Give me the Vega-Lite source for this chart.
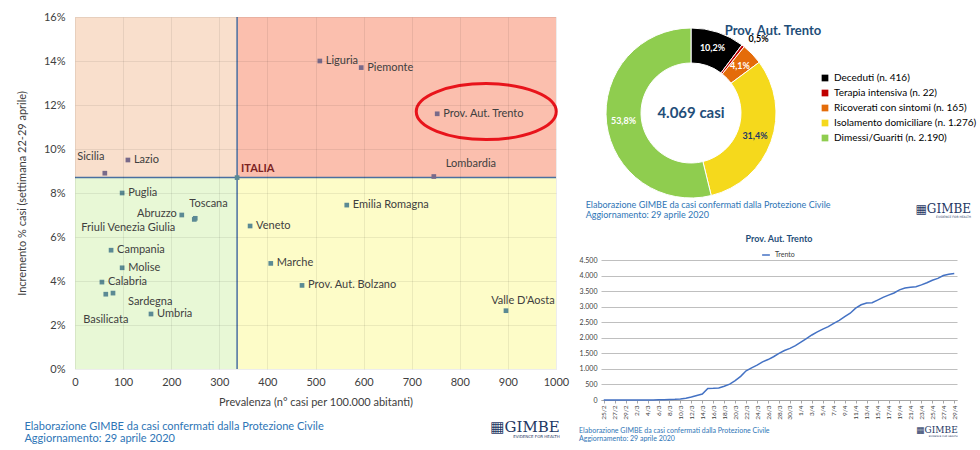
{
  "$schema": "https://vega.github.io/schema/vega-lite/v6.json",
  "padding": {"left": 16, "top": 11, "right": 5, "bottom": 0},
  "background": "white",
  "columns": 2,
  "align": "none",
  "spacing": 10,
  "resolve": {"scale": {"color": "independent", "stroke": "independent", "fill": "independent", "x": "independent", "y": "independent"}, "legend": {"color": "independent", "stroke": "independent", "fill": "independent"}},
  "config": {
    "font": "Lato",
    "view": {"stroke": null},
    "title": {"font": "Lato"},
    "legend": {"labelFont": "Lato"},
    "axis": {"labelFont": "Lato", "titleFont": "Lato"}
  },
  "datasets": {
    "regioni": [
      {"regione": "Liguria", "prevalenza": 509, "incremento": 0.140},
      {"regione": "Piemonte", "prevalenza": 595, "incremento": 0.137},
      {"regione": "Prov. Aut. Trento", "prevalenza": 753, "incremento": 0.116},
      {"regione": "Lombardia", "prevalenza": 746, "incremento": 0.0875},
      {"regione": "Sicilia", "prevalenza": 62, "incremento": 0.089},
      {"regione": "Lazio", "prevalenza": 110, "incremento": 0.095},
      {"regione": "Puglia", "prevalenza": 98, "incremento": 0.080},
      {"regione": "Abruzzo", "prevalenza": 222, "incremento": 0.070},
      {"regione": "Toscana", "prevalenza": 250, "incremento": 0.0685},
      {"regione": "Friuli Venezia Giulia", "prevalenza": 248, "incremento": 0.068},
      {"regione": "Veneto", "prevalenza": 364, "incremento": 0.065},
      {"regione": "Emilia Romagna", "prevalenza": 565, "incremento": 0.0745},
      {"regione": "Campania", "prevalenza": 75, "incremento": 0.054},
      {"regione": "Molise", "prevalenza": 98, "incremento": 0.046},
      {"regione": "Marche", "prevalenza": 407, "incremento": 0.048},
      {"regione": "Calabria", "prevalenza": 56, "incremento": 0.0395},
      {"regione": "Basilicata", "prevalenza": 64, "incremento": 0.034},
      {"regione": "Sardegna", "prevalenza": 79, "incremento": 0.0345},
      {"regione": "Umbria", "prevalenza": 158, "incremento": 0.025},
      {"regione": "Prov. Aut. Bolzano", "prevalenza": 472, "incremento": 0.038},
      {"regione": "Valle D'Aosta", "prevalenza": 896, "incremento": 0.0265},
      {"regione": "ITALIA", "prevalenza": 337, "incremento": 0.087}
    ],
    "quadranti": [
      {"quadrante": "bassa prevalenza, alto incremento", "x1": 0, "x2": 337, "y1": 0.087, "y2": 0.16},
      {"quadrante": "alta prevalenza, alto incremento", "x1": 337, "x2": 1000, "y1": 0.087, "y2": 0.16},
      {"quadrante": "bassa prevalenza, basso incremento", "x1": 0, "x2": 337, "y1": 0, "y2": 0.087},
      {"quadrante": "alta prevalenza, basso incremento", "x1": 337, "x2": 1000, "y1": 0, "y2": 0.087}
    ],
    "esiti": [
      {"stato": "Deceduti (n. 416)", "casi": 416, "ordine": 1},
      {"stato": "Terapia intensiva (n. 22)", "casi": 22, "ordine": 2},
      {"stato": "Ricoverati con sintomi (n. 165)", "casi": 165, "ordine": 3},
      {"stato": "Isolamento domiciliare (n. 1.276)", "casi": 1276, "ordine": 4},
      {"stato": "Dimessi/Guariti (n. 2.190)", "casi": 2190, "ordine": 5}
    ],
    "trento": [
      {"giorno": "25/2", "casi": 0}, {"giorno": "26/2", "casi": 0}, {"giorno": "27/2", "casi": 0},
      {"giorno": "28/2", "casi": 0}, {"giorno": "29/2", "casi": 0}, {"giorno": "1/3", "casi": 0},
      {"giorno": "2/3", "casi": 0}, {"giorno": "3/3", "casi": 1}, {"giorno": "4/3", "casi": 3},
      {"giorno": "5/3", "casi": 4}, {"giorno": "6/3", "casi": 7}, {"giorno": "7/3", "casi": 10},
      {"giorno": "8/3", "casi": 15}, {"giorno": "9/3", "casi": 22}, {"giorno": "10/3", "casi": 36},
      {"giorno": "11/3", "casi": 59}, {"giorno": "12/3", "casi": 95}, {"giorno": "13/3", "casi": 145},
      {"giorno": "14/3", "casi": 190}, {"giorno": "15/3", "casi": 372}, {"giorno": "16/3", "casi": 376},
      {"giorno": "17/3", "casi": 385}, {"giorno": "18/3", "casi": 440}, {"giorno": "19/3", "casi": 510},
      {"giorno": "20/3", "casi": 620}, {"giorno": "21/3", "casi": 760}, {"giorno": "22/3", "casi": 940},
      {"giorno": "23/3", "casi": 1030}, {"giorno": "24/3", "casi": 1120}, {"giorno": "25/3", "casi": 1225},
      {"giorno": "26/3", "casi": 1300}, {"giorno": "27/3", "casi": 1390}, {"giorno": "28/3", "casi": 1500},
      {"giorno": "29/3", "casi": 1590}, {"giorno": "30/3", "casi": 1660}, {"giorno": "31/3", "casi": 1750},
      {"giorno": "1/4", "casi": 1860}, {"giorno": "2/4", "casi": 1970}, {"giorno": "3/4", "casi": 2090},
      {"giorno": "4/4", "casi": 2190}, {"giorno": "5/4", "casi": 2280}, {"giorno": "6/4", "casi": 2356},
      {"giorno": "7/4", "casi": 2460}, {"giorno": "8/4", "casi": 2560}, {"giorno": "9/4", "casi": 2680},
      {"giorno": "10/4", "casi": 2790}, {"giorno": "11/4", "casi": 2950}, {"giorno": "12/4", "casi": 3060},
      {"giorno": "13/4", "casi": 3116}, {"giorno": "14/4", "casi": 3125}, {"giorno": "15/4", "casi": 3210},
      {"giorno": "16/4", "casi": 3299}, {"giorno": "17/4", "casi": 3370}, {"giorno": "18/4", "casi": 3440},
      {"giorno": "19/4", "casi": 3540}, {"giorno": "20/4", "casi": 3600}, {"giorno": "21/4", "casi": 3625},
      {"giorno": "22/4", "casi": 3641}, {"giorno": "23/4", "casi": 3700}, {"giorno": "24/4", "casi": 3770},
      {"giorno": "25/4", "casi": 3850}, {"giorno": "26/4", "casi": 3910}, {"giorno": "27/4", "casi": 4000},
      {"giorno": "28/4", "casi": 4040}, {"giorno": "29/4", "casi": 4069}
    ]
  },
  "concat": [
    {
      "title": {"text": "▦GIMBE", "subtitle": "EVIDENCE FOR HEALTH", "orient": "bottom", "anchor": "end", "font": "DejaVu Serif", "fontSize": 15, "fontWeight": "normal", "color": "#1f3864", "subtitleFont": "DejaVu Sans", "subtitleFontSize": 4, "subtitleColor": "#1f3864", "subtitlePadding": 0, "offset": -24, "dx": -9},
      "vconcat": [
        {
          "width": 481,
          "height": 352,
          "data": {"name": "regioni"},
          "title": {"text": "Elaborazione GIMBE da casi confermati dalla Protezione Civile", "subtitle": "Aggiornamento: 29 aprile 2020", "orient": "bottom", "anchor": "start", "fontSize": 11, "fontWeight": "normal", "color": "#2e75b6", "subtitleFont": "Lato", "subtitleFontSize": 11, "subtitleColor": "#2e75b6", "subtitlePadding": 1, "offset": 14, "dx": 8},
          "layer": [
            {
              "data": {"name": "quadranti"},
              "mark": {"type": "rect"},
              "encoding": {
                "x": {"field": "x1", "type": "quantitative", "scale": {"domain": [0, 1000]},
                  "axis": {"title": "Prevalenza  (n° casi per 100.000 abitanti)", "values": [0, 100, 200, 300, 400, 500, 600, 700, 800, 900, 1000], "format": "d", "labelFlush": false, "labelFontSize": 11, "titleFontSize": 11, "titleFontWeight": "normal", "labelColor": "#404040", "titleColor": "#404040", "ticks": false, "domain": false, "labelPadding": 7, "titlePadding": 9, "gridColor": "#000000", "gridOpacity": 0.07, "zindex": 1}},
                "x2": {"field": "x2"},
                "y": {"field": "y1", "type": "quantitative", "scale": {"domain": [0, 0.16]},
                  "axis": {"title": "Incremento %  casi (settimana 22-29 aprile)", "format": ".0%", "values": [0, 0.02, 0.04, 0.06, 0.08, 0.1, 0.12, 0.14, 0.16], "labelFlush": false, "labelFontSize": 11, "titleFontSize": 11, "titleFontWeight": "normal", "labelColor": "#404040", "titleColor": "#404040", "ticks": false, "domain": false, "labelPadding": 10, "titlePadding": 16, "gridColor": "#000000", "gridOpacity": 0.07, "zindex": 1}},
                "y2": {"field": "y2"},
                "fill": {"field": "quadrante", "type": "nominal", "legend": null,
                  "scale": {"domain": ["bassa prevalenza, alto incremento", "alta prevalenza, alto incremento", "bassa prevalenza, basso incremento", "alta prevalenza, basso incremento"], "range": ["#f9dfcc", "#fbbfae", "#e8f8d6", "#fdfcc8"]}}
              }
            },
            {
              "transform": [{"filter": "datum.regione == 'ITALIA'"}],
              "mark": {"type": "rule", "color": "#4a6fa0", "strokeWidth": 1.5},
              "encoding": {"x": {"field": "prevalenza", "type": "quantitative"}, "y": {"datum": 0}, "y2": {"datum": 0.16}}
            },
            {
              "transform": [{"filter": "datum.regione == 'ITALIA'"}],
              "mark": {"type": "rule", "color": "#4a6fa0", "strokeWidth": 1.5},
              "encoding": {"y": {"field": "incremento", "type": "quantitative"}, "x": {"datum": 0}, "x2": {"datum": 1000}}
            },
            {
              "mark": {"type": "square", "size": 22, "opacity": 1},
              "encoding": {
                "x": {"field": "prevalenza", "type": "quantitative"},
                "y": {"field": "incremento", "type": "quantitative"},
                "color": {"condition": {"test": "datum.incremento > 0.087", "value": "#786a8a"}, "value": "#5b8a94"}
              }
            },
            {
              "transform": [{"filter": "indexof(['Liguria','Piemonte','Prov. Aut. Trento','Lazio','Puglia','Veneto','Emilia Romagna','Campania','Molise','Marche','Calabria','Umbria','Prov. Aut. Bolzano'], datum.regione) >= 0"}],
              "mark": {"type": "text", "align": "left", "baseline": "middle", "dx": 6, "fontSize": 11, "color": "#404040"},
              "encoding": {"x": {"field": "prevalenza", "type": "quantitative"}, "y": {"field": "incremento", "type": "quantitative"}, "text": {"field": "regione"}}
            },
            {
              "transform": [{"filter": "datum.regione == 'Lombardia'"}],
              "mark": {"type": "text", "align": "left", "baseline": "middle", "dx": 12, "dy": -13, "fontSize": 11, "color": "#404040"},
              "encoding": {"x": {"field": "prevalenza", "type": "quantitative"}, "y": {"field": "incremento", "type": "quantitative"}, "text": {"field": "regione"}}
            },
            {
              "transform": [{"filter": "datum.regione == 'Toscana'"}],
              "mark": {"type": "text", "align": "left", "baseline": "middle", "dx": -6, "dy": -14, "fontSize": 11, "color": "#404040"},
              "encoding": {"x": {"field": "prevalenza", "type": "quantitative"}, "y": {"field": "incremento", "type": "quantitative"}, "text": {"field": "regione"}}
            },
            {
              "transform": [{"filter": "datum.regione == 'Sicilia'"}],
              "mark": {"type": "text", "align": "center", "baseline": "middle", "dx": -14, "dy": -16, "fontSize": 11, "color": "#404040"},
              "encoding": {"x": {"field": "prevalenza", "type": "quantitative"}, "y": {"field": "incremento", "type": "quantitative"}, "text": {"field": "regione"}}
            },
            {
              "transform": [{"filter": "datum.regione == \"Valle D'Aosta\""}],
              "mark": {"type": "text", "align": "center", "baseline": "middle", "dx": 17, "dy": -10, "fontSize": 11, "color": "#404040"},
              "encoding": {"x": {"field": "prevalenza", "type": "quantitative"}, "y": {"field": "incremento", "type": "quantitative"}, "text": {"field": "regione"}}
            },
            {
              "transform": [{"filter": "datum.regione == 'Abruzzo'"}],
              "mark": {"type": "text", "align": "right", "baseline": "middle", "dx": -5, "dy": -1, "fontSize": 11, "color": "#404040"},
              "encoding": {"x": {"field": "prevalenza", "type": "quantitative"}, "y": {"field": "incremento", "type": "quantitative"}, "text": {"field": "regione"}}
            },
            {
              "transform": [{"filter": "datum.regione == 'Friuli Venezia Giulia'"}],
              "mark": {"type": "text", "align": "right", "baseline": "middle", "dx": -19, "dy": 9, "fontSize": 11, "color": "#404040"},
              "encoding": {"x": {"field": "prevalenza", "type": "quantitative"}, "y": {"field": "incremento", "type": "quantitative"}, "text": {"field": "regione"}}
            },
            {
              "transform": [{"filter": "datum.regione == 'Sardegna'"}],
              "mark": {"type": "text", "align": "left", "baseline": "middle", "dx": 15, "dy": 9, "fontSize": 11, "color": "#404040"},
              "encoding": {"x": {"field": "prevalenza", "type": "quantitative"}, "y": {"field": "incremento", "type": "quantitative"}, "text": {"field": "regione"}}
            },
            {
              "transform": [{"filter": "datum.regione == 'Basilicata'"}],
              "mark": {"type": "text", "align": "center", "baseline": "middle", "dx": 0, "dy": 26, "fontSize": 11, "color": "#404040"},
              "encoding": {"x": {"field": "prevalenza", "type": "quantitative"}, "y": {"field": "incremento", "type": "quantitative"}, "text": {"field": "regione"}}
            },
            {
              "transform": [{"filter": "datum.regione == 'ITALIA'"}],
              "mark": {"type": "text", "align": "left", "baseline": "middle", "dx": 4, "dy": -9, "fontSize": 11, "fontWeight": "bold", "color": "#7b2323"},
              "encoding": {"x": {"field": "prevalenza", "type": "quantitative"}, "y": {"field": "incremento", "type": "quantitative"}, "text": {"field": "regione"}}
            },
            {
              "transform": [{"filter": "datum.regione == 'Prov. Aut. Trento'"}],
              "mark": {"type": "point", "shape": "M-1,0C-1,-0.2209,-0.5523,-0.4,0,-0.4C0.5523,-0.4,1,-0.2209,1,0C1,0.2209,0.5523,0.4,0,0.4C-0.5523,0.4,-1,0.2209,-1,0Z", "size": 19600, "filled": false, "stroke": "#e8141b", "strokeWidth": 3, "opacity": 1},
              "encoding": {"x": {"datum": 855}, "y": {"datum": 0.117}}
            }
          ]
        }
      ]
    },
    {
      "spacing": 15,
      "resolve": {"scale": {"color": "independent", "stroke": "independent"}, "legend": {"color": "independent", "stroke": "independent"}},
      "vconcat": [
        {
          "title": {"text": "▦GIMBE", "subtitle": "EVIDENCE FOR HEALTH", "orient": "bottom", "anchor": "end", "font": "DejaVu Serif", "fontSize": 12, "fontWeight": "normal", "color": "#1f3864", "subtitleFont": "DejaVu Sans", "subtitleFontSize": 3, "subtitleColor": "#1f3864", "subtitlePadding": 0, "offset": -16, "dx": -6},
          "vconcat": [
            {
              "title": {"text": "Elaborazione GIMBE da casi confermati dalla Protezione Civile", "subtitle": "Aggiornamento: 29 aprile 2020", "orient": "bottom", "anchor": "start", "fontSize": 9, "fontWeight": "normal", "color": "#2e75b6", "subtitleFont": "Lato", "subtitleFontSize": 9, "subtitleColor": "#2e75b6", "subtitlePadding": 1, "offset": -8, "dx": -12},
              "vconcat": [
                {
                  "width": 180,
                  "height": 192,
                  "data": {"name": "esiti"},
                  "title": {"text": "Prov. Aut. Trento", "fontSize": 13, "fontWeight": "bold", "color": "#1f4e79", "anchor": "middle", "offset": -21, "dx": 82},
                  "transform": [
                    {"joinaggregate": [{"op": "sum", "field": "casi", "as": "totale"}]},
                    {"calculate": "replace(format(datum.casi / datum.totale, '.1%'), '.', ',')", "as": "quota"}
                  ],
                  "layer": [
                    {
                      "mark": {"type": "arc", "innerRadius": 50, "outerRadius": 85, "stroke": "white", "strokeWidth": 1},
                      "encoding": {
                        "theta": {"field": "casi", "type": "quantitative", "stack": true},
                        "order": {"field": "ordine", "type": "quantitative"},
                        "color": {"field": "stato", "type": "nominal",
                          "scale": {"domain": ["Deceduti (n. 416)", "Terapia intensiva (n. 22)", "Ricoverati con sintomi (n. 165)", "Isolamento domiciliare (n. 1.276)", "Dimessi/Guariti (n. 2.190)"], "range": ["#000000", "#c00000", "#e46c0a", "#f5d91c", "#8fcd4f"]},
                          "legend": {"title": null, "orient": "none", "legendX": 219, "legendY": 56, "symbolType": "square", "symbolSize": 45, "symbolStrokeWidth": 0, "labelFontSize": 10, "labelColor": "#000000", "rowPadding": 5, "padding": 0}}
                      }
                    },
                    {
                      "mark": {"type": "text", "radius": 68, "fontSize": 9, "fontWeight": "bold"},
                      "encoding": {
                        "theta": {"field": "casi", "type": "quantitative", "stack": true},
                        "order": {"field": "ordine", "type": "quantitative"},
                        "text": {"condition": {"test": "datum.casi == 22", "value": ""}, "field": "quota"},
                        "color": {"condition": {"test": "datum.casi == 1276", "value": "#1f3864"}, "value": "#ffffff"}
                      }
                    },
                    {
                      "mark": {"type": "text", "radius": 94, "fontSize": 9, "fontWeight": "bold", "color": "#000000", "align": "left"},
                      "encoding": {
                        "theta": {"field": "casi", "type": "quantitative", "stack": true},
                        "order": {"field": "ordine", "type": "quantitative"},
                        "text": {"condition": {"test": "datum.casi != 22", "value": ""}, "field": "quota"}
                      }
                    },
                    {
                      "transform": [
                        {"aggregate": [{"op": "sum", "field": "casi", "as": "somma"}]},
                        {"calculate": "replace(format(datum.somma, ','), ',', '.') + ' casi'", "as": "etichetta"}
                      ],
                      "mark": {"type": "text", "fontSize": 15, "fontWeight": "bold", "color": "#1f4e79"},
                      "encoding": {"text": {"field": "etichetta"}}
                    }
                  ]
                }
              ]
            }
          ]
        },
        {
          "title": {"text": "▦GIMBE", "subtitle": "EVIDENCE FOR HEALTH", "orient": "bottom", "anchor": "end", "font": "DejaVu Serif", "fontSize": 9, "fontWeight": "normal", "color": "#1f3864", "subtitleFont": "DejaVu Sans", "subtitleFontSize": 2.5, "subtitleColor": "#1f3864", "subtitlePadding": 0, "offset": -16},
          "vconcat": [
            {
              "title": {"text": "Elaborazione GIMBE da casi confermati dalla Protezione Civile", "subtitle": "Aggiornamento: 29 aprile 2020", "orient": "bottom", "anchor": "start", "fontSize": 7, "fontWeight": "normal", "color": "#2e75b6", "subtitleFont": "Lato", "subtitleFontSize": 7, "subtitleColor": "#2e75b6", "subtitlePadding": 1, "offset": 8},
              "vconcat": [
                {
                  "width": 356,
                  "height": 140,
                  "data": {"name": "trento"},
                  "title": {"text": "Prov. Aut. Trento", "fontSize": 9, "fontWeight": "bold", "color": "#1f4e79", "anchor": "middle", "offset": 12},
                  "mark": {"type": "line", "strokeWidth": 1.5},
                  "encoding": {
                    "x": {"field": "giorno", "type": "ordinal", "sort": null, "scale": {"type": "point", "padding": 0.5},
                      "axis": {"title": null, "values": ["25/2", "27/2", "29/2", "2/3", "4/3", "6/3", "8/3", "10/3", "12/3", "14/3", "16/3", "18/3", "20/3", "22/3", "24/3", "26/3", "28/3", "30/3", "1/4", "3/4", "5/4", "7/4", "9/4", "11/4", "13/4", "15/4", "17/4", "19/4", "21/4", "23/4", "25/4", "27/4", "29/4"], "labelAngle": -90, "labelFontSize": 6.5, "labelColor": "#404040", "domainColor": "#a6a6a6", "tickColor": "#a6a6a6", "tickSize": 3, "labelPadding": 2}},
                    "y": {"field": "casi", "type": "quantitative", "scale": {"domain": [0, 4500]},
                      "axis": {"title": null, "values": [0, 500, 1000, 1500, 2000, 2500, 3000, 3500, 4000, 4500], "labelExpr": "replace(format(datum.value, ','), ',', '.')", "labelFontSize": 7, "labelColor": "#404040", "ticks": false, "domain": false, "labelPadding": 4, "gridColor": "#bfbfbf"}},
                    "stroke": {"datum": "Trento", "type": "nominal", "scale": {"range": ["#4472c4"]},
                      "legend": {"title": null, "orient": "none", "legendX": 160, "legendY": -10, "symbolType": "stroke", "symbolStrokeWidth": 1.5, "symbolSize": 60, "labelFontSize": 7, "labelColor": "#404040", "padding": 0}}
                  }
                }
              ]
            }
          ]
        }
      ]
    }
  ]
}
